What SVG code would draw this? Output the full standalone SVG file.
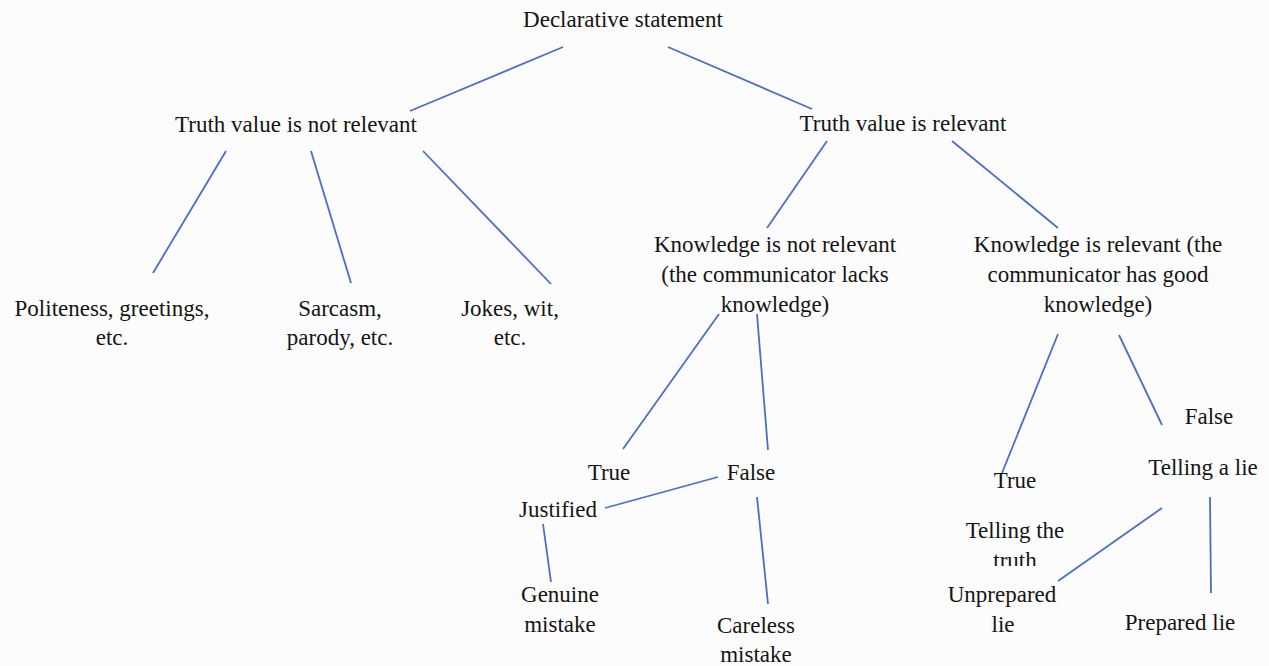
<svg xmlns="http://www.w3.org/2000/svg" width="1269" height="666" viewBox="0 0 1269 666">
  <style>
    text { font-family: "Liberation Serif", "Times New Roman", serif; font-size: 23px; fill: #141414; text-anchor: middle; }
    .conn line { stroke: #4a6fc4; stroke-width: 1.8; stroke-linecap: butt; }
  </style>
  <defs>
    <clipPath id="clipTruth"><rect x="900" y="500" width="200" height="66"/></clipPath>
  </defs>
  <rect x="0" y="0" width="1269" height="666" fill="#fcfcfc"/>

  <g id="connectors" class="conn">
    <line x1="563" y1="47" x2="410" y2="111"/>
    <line x1="668" y1="47" x2="812" y2="109"/>
    <line x1="226" y1="151" x2="153" y2="273"/>
    <line x1="311" y1="151" x2="351" y2="283"/>
    <line x1="423" y1="151" x2="551" y2="284"/>
    <line x1="827" y1="141" x2="767" y2="228"/>
    <line x1="952" y1="141" x2="1058" y2="228"/>
    <line x1="719" y1="314" x2="623" y2="449"/>
    <line x1="757" y1="314" x2="768" y2="450"/>
    <line x1="718" y1="477" x2="605" y2="508"/>
    <line x1="543" y1="524" x2="551" y2="582"/>
    <line x1="757" y1="497" x2="768" y2="604"/>
    <line x1="1058" y1="334" x2="1002" y2="473"/>
    <line x1="1119" y1="335" x2="1162" y2="425"/>
    <line x1="1162" y1="508" x2="1058" y2="581"/>
    <line x1="1210" y1="497" x2="1211" y2="593"/>
  </g>

  <g id="n-declarative"><text x="623" y="27">Declarative statement</text></g>
  <g id="n-tv-not"><text x="296" y="132">Truth value is not relevant</text></g>
  <g id="n-tv-rel"><text x="903" y="131">Truth value is relevant</text></g>
  <g id="n-politeness"><text x="112" y="316">Politeness, greetings,</text><text x="112" y="345">etc.</text></g>
  <g id="n-sarcasm"><text x="340" y="316">Sarcasm,</text><text x="340" y="345">parody, etc.</text></g>
  <g id="n-jokes"><text x="510" y="316">Jokes, wit,</text><text x="510" y="345">etc.</text></g>
  <g id="n-k-not"><text x="775" y="252">Knowledge is not relevant</text><text x="775" y="282">(the communicator lacks</text><text x="775" y="312">knowledge)</text></g>
  <g id="n-k-rel"><text x="1098" y="252">Knowledge is relevant (the</text><text x="1098" y="282">communicator has good</text><text x="1098" y="312">knowledge)</text></g>
  <g id="n-true1"><text x="609" y="480">True</text></g>
  <g id="n-false1"><text x="751" y="480">False</text></g>
  <g id="n-justified"><text x="558" y="517">Justified</text></g>
  <g id="n-genuine"><text x="560" y="602">Genuine</text><text x="560" y="632">mistake</text></g>
  <g id="n-careless"><text x="756" y="633">Careless</text><text x="756" y="662">mistake</text></g>
  <g id="n-false2"><text x="1209" y="424">False</text></g>
  <g id="n-lie"><text x="1203" y="475">Telling a lie</text></g>
  <g id="n-true2"><text x="1015" y="488">True</text></g>
  <g id="n-truth"><text x="1015" y="538">Telling the</text><text x="1015" y="568" clip-path="url(#clipTruth)">truth</text></g>
  <g id="n-unprepared"><text x="1002" y="602">Unprepared</text><text x="1003" y="632">lie</text></g>
  <g id="n-prepared"><text x="1180" y="630">Prepared lie</text></g>
</svg>
